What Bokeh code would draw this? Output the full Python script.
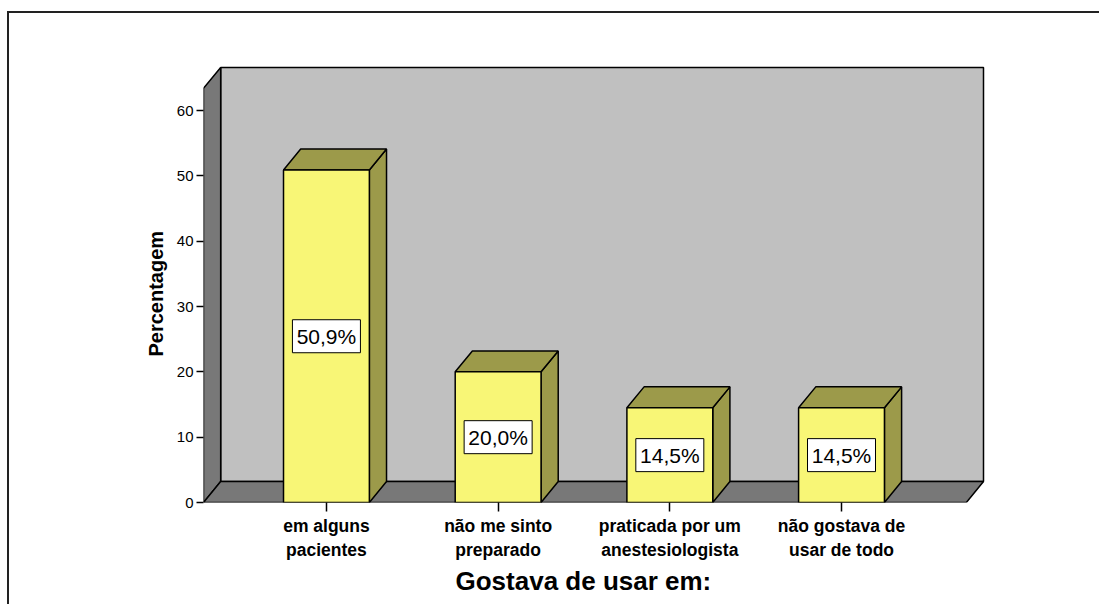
import math
from bokeh.plotting import figure
from bokeh.models import ColumnDataSource, FixedTicker, LabelSet, Title
from bokeh.core.properties import value
from bokeh.embed import file_html
from bokeh.resources import INLINE

# ---- data ----
categories = ["em alguns\npacientes", "não me sinto\npreparado",
              "praticada por um\nanestesiologista", "não gostava de\nusar de todo"]
percent = [50.9, 20.0, 14.5, 14.5]
pct_labels = ["50,9%", "20,0%", "14,5%", "14,5%"]
y_ticks = [0, 10, 20, 30, 40, 50, 60]
y_title = "Percentagem"
x_title = "Gostava de usar em:"

# ---- style / geometry constants ----
DX, DY = 0.1, 3.2          # 3D depth offset (data units)
HW = 0.25                  # half bar width
X0, X1 = 0.284, 4.727      # floor front extent
YTOP = 63.4                # wall height
YELLOW = "#f8f676"
OLIVE = "#9c9a4a"
DARK = "#787878"
LIGHT = "#c0c0c0"
FONT = "Liberation Sans"

xs = list(range(1, len(categories) + 1))

p = figure(width=1099, height=604, x_range=(0.284, 4.926), y_range=(0, 67.66),
           output_backend="svg", toolbar_location=None,
           min_border_left=203, min_border_right=99,
           min_border_top=60, min_border_bottom=102)
p.grid.visible = False
p.outline_line_color = None
p.border_fill_color = None
p.background_fill_color = None
p.styles = {
    "background-color": "white",
    "background-image": "linear-gradient(#222,#222), linear-gradient(#222,#222)",
    "background-size": "2px 100%, 100% 2px",
    "background-position": "7px 11px, 7px 11px",
    "background-repeat": "no-repeat",
}

# walls
back_x = [X0 + DX, X1 + DX, X1 + DX, X0 + DX]
back_y = [DY, DY, YTOP + DY, YTOP + DY]
left_x = [X0, X0 + DX, X0 + DX, X0]
left_y = [0, DY, YTOP + DY, YTOP]
floor_x = [X0, X1, X1 + DX, X0 + DX]
floor_y = [0, 0, DY, DY]
p.patches([back_x], [back_y], fill_color=LIGHT, line_color="black", line_width=1.5)
p.patches([left_x, floor_x], [left_y, floor_y], fill_color=DARK, line_color="black", line_width=1.5)

# bars
front_xs, front_ys, side_xs, side_ys = [], [], [], []
for c, v in zip(xs, percent):
    front_xs.append([c - HW, c + HW, c + HW, c - HW])
    front_ys.append([0, 0, v, v])
    side_xs.append([c + HW, c + HW + DX, c + HW + DX, c + HW])
    side_ys.append([0, DY, v + DY, v])
    side_xs.append([c - HW, c + HW, c + HW + DX, c - HW + DX])
    side_ys.append([v, v, v + DY, v + DY])
p.patches(side_xs, side_ys, fill_color=OLIVE, line_color="black", line_width=1.5)
p.patches(front_xs, front_ys, fill_color=YELLOW, line_color="black", line_width=1.5)

src = ColumnDataSource(dict(x=xs, y=[v / 2 for v in percent], t=pct_labels))
p.rect(x="x", y="y", width=68, height=33, width_units="screen", height_units="screen",
       source=src, fill_color="white", line_color="black", line_width=1)
p.add_layout(LabelSet(x="x", y="y", text="t", source=src, text_align="center",
                      text_baseline="middle", text_font=value(FONT),
                      text_font_size=value("21px"), text_color="black"))

# axes
ya = p.yaxis[0]
ya.ticker = FixedTicker(ticks=y_ticks)
ya.axis_line_color = None
ya.major_tick_in = 0
ya.major_tick_out = 7
ya.major_tick_line_width = 1.5
ya.minor_tick_line_color = None
ya.major_label_standoff = 3
ya.major_label_text_font = FONT
ya.major_label_text_font_size = "15px"
ya.major_label_text_color = "black"

xa = p.xaxis[0]
xa.ticker = FixedTicker(ticks=xs)
xa.major_label_overrides = {i: c for i, c in zip(xs, categories)}
xa.axis_line_color = None
xa.major_tick_in = 0
xa.major_tick_out = 9
xa.major_tick_line_width = 1.5
xa.minor_tick_line_color = None
xa.major_label_standoff = 4
xa.major_label_text_font = FONT
xa.major_label_text_font_size = "17.5px"
xa.major_label_text_font_style = "bold"
xa.major_label_text_color = "black"

p.add_layout(Title(text=y_title, align="left", offset=146, standoff=14,
                   text_font=FONT, text_font_size="20px", text_font_style="bold",
                   text_color="black"), "left")
p.add_layout(Title(text=x_title, align="left", offset=252, standoff=2,
                   text_font=FONT, text_font_size="26px", text_font_style="bold",
                   text_color="black"), "below")

open("out.html", "w").write(file_html(p, INLINE))
